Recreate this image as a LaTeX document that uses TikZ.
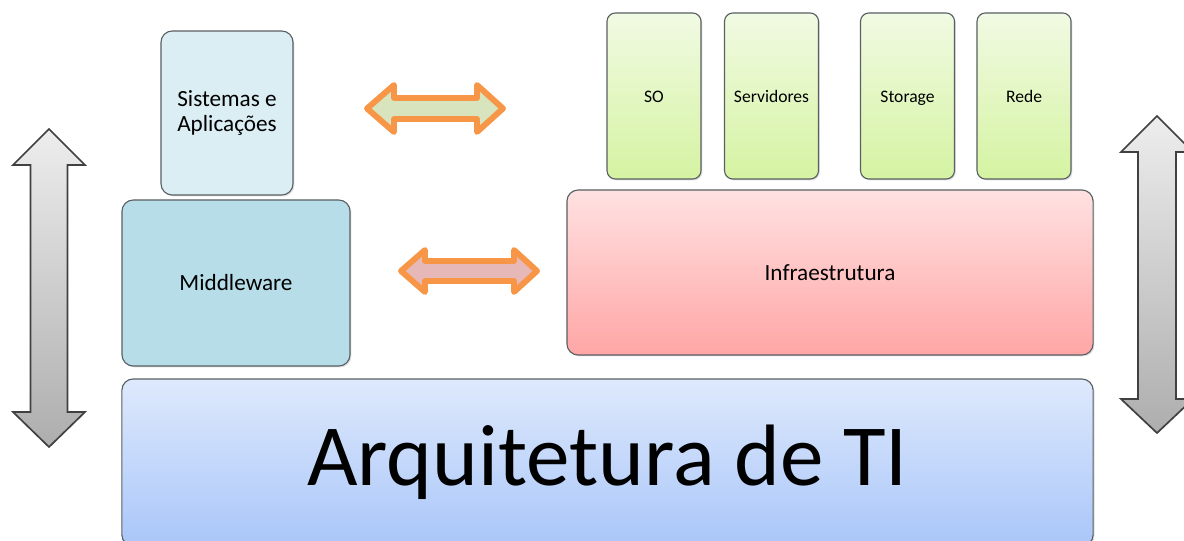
\documentclass[tikz,border=0pt]{standalone}
\usepackage{fontspec}
\setmainfont{Carlito}
\usetikzlibrary{shadows}

\definecolor{boxline}{HTML}{5A5F63}
\definecolor{sisfill}{HTML}{DBEEF4}
\definecolor{midfill}{HTML}{B6DDE8}
\definecolor{greentop}{HTML}{F1FAE3}
\definecolor{greenbot}{HTML}{D5F3A2}
\definecolor{redtop}{HTML}{FFE1E1}
\definecolor{redbot}{HTML}{FFA6A6}
\definecolor{bluetop}{HTML}{DEE9FC}
\definecolor{bluebot}{HTML}{A9C6F9}
\definecolor{orangeline}{HTML}{F79646}
\definecolor{greenarrow}{HTML}{D7E4BD}
\definecolor{pinkarrow}{HTML}{E6B9B8}

\begin{document}
\begin{tikzpicture}[x=0.025cm, y=-0.025cm,
    layer/.style={draw=boxline, line width=0.8pt, rounded corners=8pt, align=center,
      inner sep=0pt, drop shadow={opacity=0.25, shadow xshift=1pt, shadow yshift=-1pt},
      font=\fontsize{16.5}{18.4}\selectfont},
    part/.style={layer, top color=greentop, bottom color=greenbot, rounded corners=6pt,
      minimum width=2.35cm, minimum height=4.15cm, text height=2.4ex, text depth=0.4ex,
      font=\fontsize{12.5}{14}\selectfont},
    swap/.style={draw=orangeline, line width=4.2pt, line join=round},
    updown/.style={draw=black!75, line width=1.2pt, top color=black!7, bottom color=black!32}]
  \useasboundingbox (0,0) rectangle (1184,540);

  % left column
  \node[layer, fill=sisfill, minimum width=3.3cm, minimum height=4.1cm] (sis) at (227,113) {Sistemas e\\Aplicações};
  \node[layer, fill=midfill, minimum width=5.7cm, minimum height=4.15cm] (mid) at (236,283) {Middleware};

  % right column
  \node[part] (so) at (654,96) {SO};
  \node[part] (serv) at (771.5,96) {Servidores};
  \node[part] (stor) at (907.5,96) {Storage};
  \node[part] (rede) at (1024,96) {Rede};
  \node[layer, top color=redtop, bottom color=redbot, minimum width=13.15cm, minimum height=4.125cm] (infra) at (830,272.5) {Infraestrutura};

  % base
  \node[layer, top color=bluetop, bottom color=bluebot, minimum width=24.275cm, minimum height=4.175cm,
    font=\fontsize{62}{70}\selectfont] (arq) at (607.5,462.5) {Arquitetura de TI};

  % orange arrows
  \draw[swap, fill=greenarrow] (367,108.5) -- (394,85) -- (394,98) -- (477,98) -- (477,85) -- (503,108.5)
    -- (477,132) -- (477,119) -- (394,119) -- (394,132) -- cycle;
  \draw[swap, fill=pinkarrow] (401,271) -- (425,250) -- (425,261) -- (514,261) -- (514,250) -- (537,271)
    -- (514,292) -- (514,281) -- (425,281) -- (425,292) -- cycle;

  % gray arrows
  \draw[updown] (49,129) -- (85,165) -- (67.5,165) -- (67.5,412) -- (85,412) -- (49,447) -- (13,412)
    -- (30.5,412) -- (30.5,165) -- (13,165) -- cycle;
  \draw[updown] (1157,116) -- (1193,152) -- (1176,152) -- (1176,399) -- (1193,399) -- (1157,433) -- (1121,399)
    -- (1138,399) -- (1138,152) -- (1121,152) -- cycle;
\end{tikzpicture}
\end{document}
